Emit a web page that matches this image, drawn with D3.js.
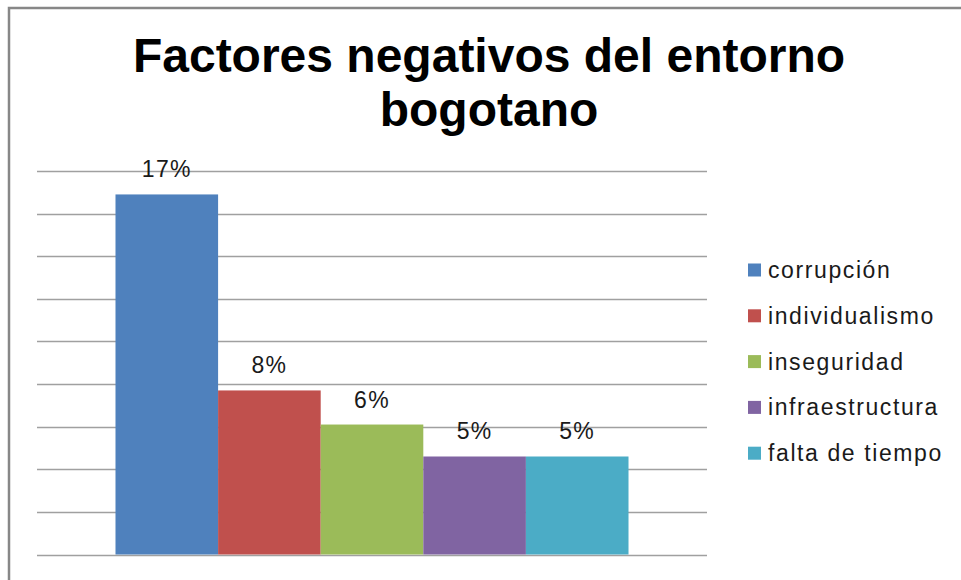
<!DOCTYPE html>
<html>
<head>
<meta charset="utf-8">
<script src="https://cdn.jsdelivr.net/npm/d3@7/dist/d3.min.js"></script>
<style>
  body { margin: 0; background: #fff; }
  text { font-family: "Liberation Sans", Arial, sans-serif; }
</style>
</head>
<body>
<div id="chart"></div>
<script>
var categories = ['corrupción', 'individualismo', 'inseguridad', 'infraestructura', 'falta de tiempo'];
var values = [0.169, 0.077, 0.061, 0.046, 0.046];
var colors = ['#4f81bd', '#c0504d', '#9bbb59', '#8064a2', '#4bacc6'];
var yTicks = [0, 0.02, 0.04, 0.06, 0.08, 0.10, 0.12, 0.14, 0.16, 0.18];
var titleLines = ['Factores negativos del entorno', 'bogotano'];

var width = 961,
    height = 580;

var svg = d3.select('#chart').append('svg')
  .attr('width', width)
  .attr('height', height);

// chart frame
svg.append('path')
  .attr('d', 'M9,' + height + 'V8H' + width)
  .attr('fill', 'none')
  .attr('stroke', '#878787')
  .attr('stroke-width', 2.5);

var x = d3.scaleBand()
  .domain(categories)
  .range([37, 707])
  .paddingInner(0)
  .paddingOuter(0.765);

var y = d3.scaleLinear()
  .domain([0, 0.18])
  .range([554.5, 171]);

var fmt = d3.format('.0%');

// gridlines
svg.append('g')
  .selectAll('line')
  .data(yTicks)
  .enter()
  .append('line')
  .attr('x1', 37)
  .attr('x2', 707)
  .attr('y1', function(d) { return Math.round(y(d)) + 0.5; })
  .attr('y2', function(d) { return Math.round(y(d)) + 0.5; })
  .attr('stroke', '#a0a0a0')
  .attr('stroke-width', 1.5);

// bars
svg.append('g')
  .selectAll('rect')
  .data(values)
  .enter()
  .append('rect')
  .attr('x', function(d, i) { return x(categories[i]); })
  .attr('y', function(d) { return y(d); })
  .attr('width', x.bandwidth())
  .attr('height', function(d) { return y(0) - y(d); })
  .attr('fill', function(d, i) { return colors[i]; });

// value labels
svg.append('g')
  .selectAll('text')
  .data(values)
  .enter()
  .append('text')
  .attr('x', function(d, i) { return x(categories[i]) + x.bandwidth() / 2; })
  .attr('y', function(d) { return y(d) - 17; })
  .attr('text-anchor', 'middle')
  .style('font-size', '23px')
  .style('letter-spacing', '1.3px')
  .style('fill', '#1a1a1a')
  .text(function(d) { return fmt(d); });

// title
svg.append('text')
  .attr('x', 489)
  .attr('y', 72)
  .attr('text-anchor', 'middle')
  .style('font-size', '48px')
  .style('font-weight', 'bold')
  .style('fill', '#000')
  .selectAll('tspan')
  .data(titleLines)
  .enter()
  .append('tspan')
  .attr('x', 489)
  .attr('dy', function(d, i) { return i ? 54 : 0; })
  .text(function(d) { return d; });

// legend
var legend = svg.append('g')
  .attr('transform', 'translate(748,270)');

var item = legend.selectAll('g')
  .data(categories)
  .enter()
  .append('g')
  .attr('transform', function(d, i) { return 'translate(0,' + (i * 45.8) + ')'; });

item.append('rect')
  .attr('x', 0)
  .attr('y', -6.5)
  .attr('width', 13)
  .attr('height', 13)
  .attr('fill', function(d, i) { return colors[i]; });

item.append('text')
  .attr('x', 20)
  .attr('y', 8)
  .style('font-size', '23px')
  .style('letter-spacing', '1.6px')
  .style('fill', '#1a1a1a')
  .text(function(d) { return d; });
</script>
</body>
</html>
